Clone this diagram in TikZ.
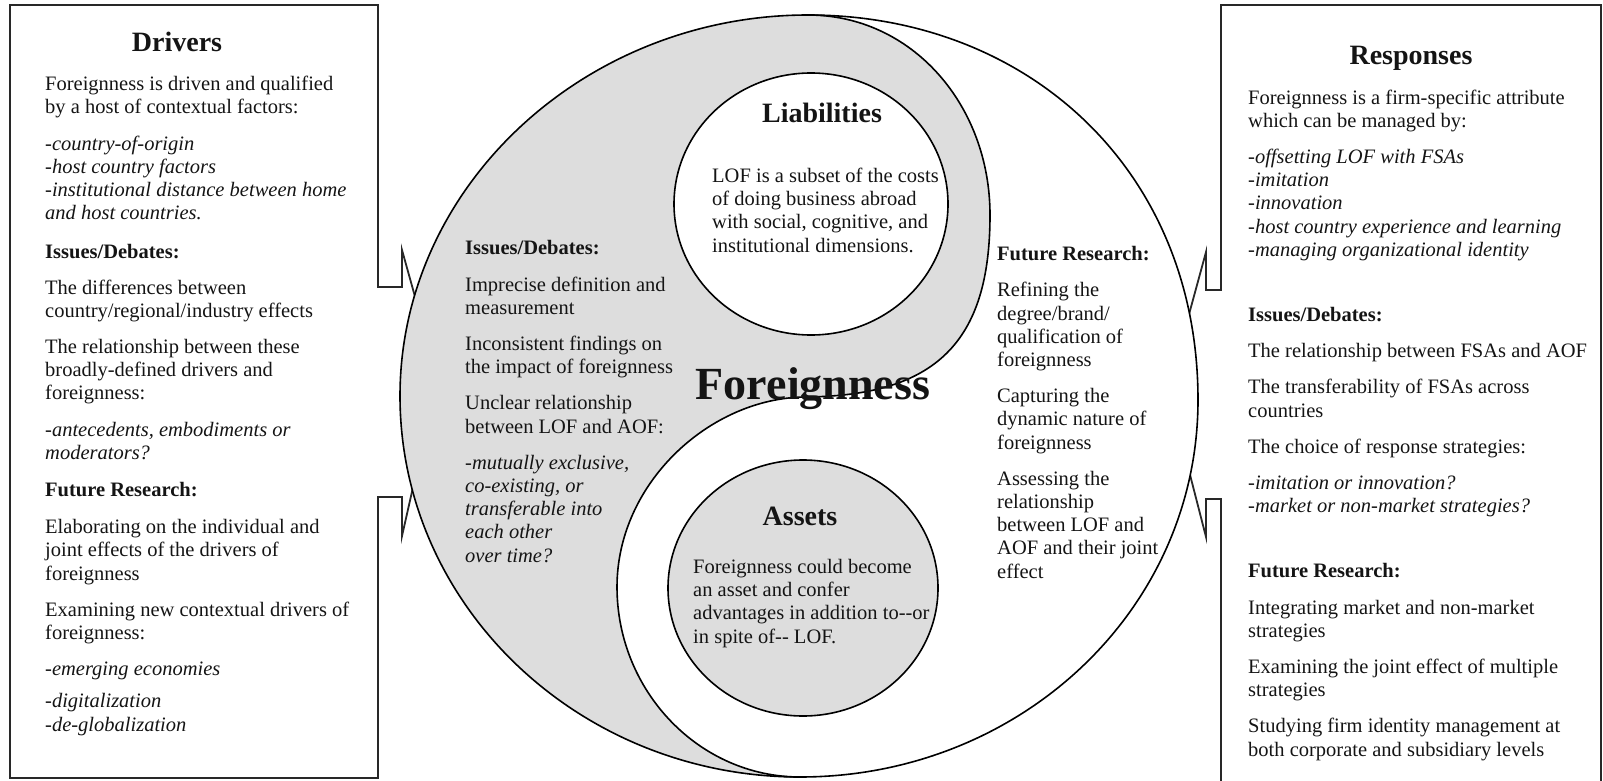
\documentclass[tikz,border=0pt]{standalone}
\usepackage{fontspec}
\setmainfont{Liberation Serif}
\usetikzlibrary{positioning,shapes.geometric}
\definecolor{ink}{RGB}{20,20,20}
\definecolor{edge}{RGB}{40,40,40}
\definecolor{yin}{RGB}{221,221,221}
\tikzset{
  frame/.style={draw=edge,line width=1.8pt},
  rim/.style={draw=black,line width=1.6pt},
  orb/.style={ellipse,rim,fill=#1,inner sep=0pt},
  orb/.default=white,
  head/.style={font=\fontsize{28}{32}\selectfont\bfseries,text=ink,inner sep=0pt,anchor=base},
  % multi-line text: placed by the baseline of its last line
  body/.style={font=\fontsize{20.5}{23.2}\selectfont,text=ink,align=left,inner sep=0pt,anchor=base west},
  hub/.style={font=\fontsize{46}{50}\selectfont\bfseries,text=ink,inner sep=0pt,anchor=base},
}
\newcommand{\gap}{\\[13pt]}

\begin{document}
\begin{tikzpicture}[x=1pt,y=-1pt]
  \useasboundingbox (0,0) rectangle (1603,781);
  % side boxes and their pointers
  \draw[frame] (419,311) -- (402,250) -- (402,287) -- (378,287) -- (378,5) -- (10,5)
    -- (10,778) -- (378,778) -- (378,497) -- (402,497) -- (402,536) -- (416,474);
  \draw[frame] (1188,318) -- (1206,252) -- (1206,290) -- (1221,290) -- (1221,5)
    -- (1601,5) -- (1601,781);
  \draw[frame] (1188,467) -- (1206,537) -- (1206,499) -- (1221,499) -- (1221,781);
  % the yin-yang
  \fill[white] (808,15) .. controls (1028,15) and (1198,170) .. (1198,400)
    .. controls (1198,610) and (1020,777) .. (800,777)
    .. controls (579,777) and (400,606) .. (400,396)
    .. controls (400,186) and (585,15) .. (808,15) -- cycle;
  \fill[yin] (808,15) .. controls (585,15) and (400,186) .. (400,396)
    .. controls (400,606) and (579,777) .. (800,777)
    .. controls (699,777) and (617,691) .. (617,587)
    .. controls (617,483) and (710,398) .. (805,397)
    .. controls (935,396) and (990,343) .. (990,215)
    .. controls (990,105) and (912,15) .. (808,15) -- cycle;
  \draw[rim] (808,15) .. controls (1028,15) and (1198,170) .. (1198,400)
    .. controls (1198,610) and (1020,777) .. (800,777)
    .. controls (579,777) and (400,606) .. (400,396)
    .. controls (400,186) and (585,15) .. (808,15) -- cycle;
  \draw[rim] (808,15) .. controls (912,15) and (990,105) .. (990,215)
    .. controls (990,343) and (935,396) .. (805,397)
    .. controls (710,398) and (617,483) .. (617,587)
    .. controls (617,691) and (699,777) .. (800,777);
  \node[orb, minimum width=274pt, minimum height=262pt] (liab) at (811,204) {};
  \node[orb=yin, minimum width=270pt, minimum height=256pt] (assets) at (803,588) {};

  \node[head] (drivers) at (177,52) {Drivers};
  \node[head] (responses) at (1411,65) {Responses};
  \node[head] (liabhead) at (822,123) {Liabilities};
  \node[head] (assetshead) at (800,525) {Assets};
  \node[hub] (hub) at (813,399) {Foreignness};

  \node[body] (drvtext) at (45,731) {Foreignness is driven and qualified\\
    by a host of contextual factors:\gap
    \textit{-country-of-origin}\\
    \textit{-host country factors}\\
    \textit{-institutional distance between home}\\
    \textit{and host countries.}\\[16pt]
    \textbf{Issues/Debates:}\\[12pt]
    The differences between\\
    country/regional/industry effects\gap
    The relationship between these\\
    broadly-defined drivers and\\
    foreignness:\gap
    \textit{-antecedents, embodiments or}\\
    \textit{moderators?}\\[14pt]
    \textbf{Future Research:}\\[14pt]
    Elaborating on the individual and\\
    joint effects of the drivers of\\
    foreignness\gap
    Examining new contextual drivers of\\
    foreignness:\gap
    \textit{-emerging economies}\\[9pt]
    \textit{-digitalization}\\
    \textit{-de-globalization}};

  \node[body] (resptext) at (1248,756) {Foreignness is a firm-specific attribute\\
    which can be managed by:\gap
    \textit{-offsetting LOF with FSAs}\\
    \textit{-imitation}\\
    \textit{-innovation}\\
    \textit{-host country experience and learning}\\
    \textit{-managing organizational identity}\\[42pt]
    \textbf{Issues/Debates:}\gap
    The relationship between FSAs and AOF\gap
    The transferability of FSAs across\\
    countries\gap
    The choice of response strategies:\gap
    \textit{-imitation or innovation?}\\
    \textit{-market or non-market strategies?}\\[42pt]
    \textbf{Future Research:}\gap
    Integrating market and non-market\\
    strategies\gap
    Examining the joint effect of multiple\\
    strategies\gap
    Studying firm identity management at\\
    both corporate and subsidiary levels};

  \node[body] (issues) at (465,562) {\textbf{Issues/Debates:}\gap
    Imprecise definition and\\
    measurement\gap
    Inconsistent findings on\\
    the impact of foreignness\gap
    Unclear relationship\\
    between LOF and AOF:\gap
    \textit{-mutually exclusive,}\\
    \textit{co-existing, or}\\
    \textit{transferable into}\\
    \textit{each other}\\
    \textit{over time?}};

  \node[body] (future) at (997,578) {\textbf{Future Research:}\gap
    Refining the\\
    degree/brand/\\
    qualification of\\
    foreignness\gap
    Capturing the\\
    dynamic nature of\\
    foreignness\gap
    Assessing the\\
    relationship\\
    between LOF and\\
    AOF and their joint\\
    effect};

  \node[body] (liabtext) at (712,252) {LOF is a subset of the costs\\
    of doing business abroad\\
    with social, cognitive, and\\
    institutional dimensions.};

  \node[body] (assetstext) at (693,643) {Foreignness could become\\
    an asset and confer\\
    advantages in addition to-{}-or\\
    in spite of-{}- LOF.};
\end{tikzpicture}
\end{document}
